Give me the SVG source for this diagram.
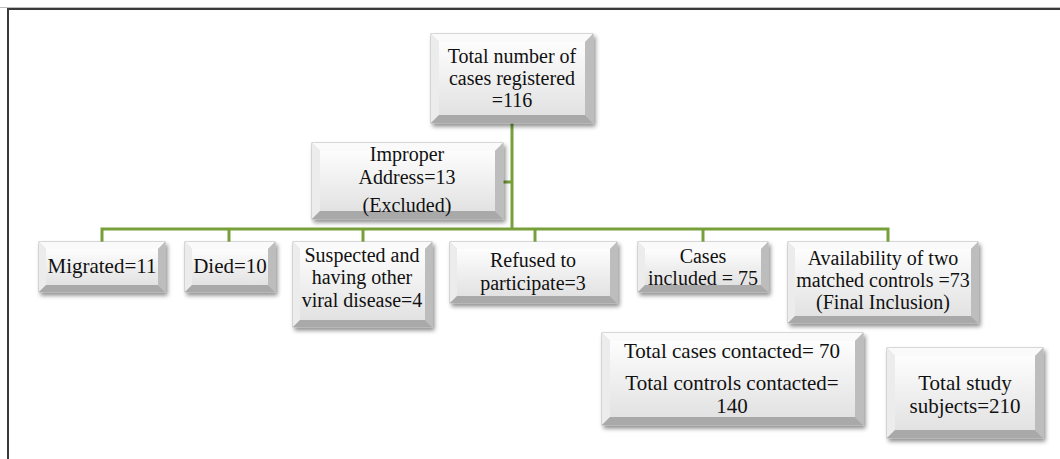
<svg xmlns="http://www.w3.org/2000/svg" width="1060" height="459" viewBox="0 0 1060 459">
<defs>
<linearGradient id="face" x1="0" y1="0" x2="0" y2="1">
<stop offset="0" stop-color="#fdfdfd"/>
<stop offset="1" stop-color="#e2e2e2"/>
</linearGradient>
<filter id="sh" x="-10%" y="-10%" width="125%" height="135%">
<feDropShadow dx="2" dy="3" stdDeviation="2" flood-color="#000" flood-opacity="0.45"/>
</filter>
</defs>
<style>
.frame{stroke:#3a3a3a;stroke-width:2;fill:none}
.frame2{stroke:#bdbdbd;stroke-width:1;fill:none}
.conn{stroke:#77a03a;stroke-width:3;fill:none}
.outer{fill:#d4d4d4;stroke:#b5b5b5;stroke-width:1;filter:url(#sh)}
.bt{fill:#fafafa}
.bl{fill:#ececec}
.br{fill:#bdbdbd}
.bb{fill:#a9a9a9}
.face{fill:url(#face)}
.lbl{font-size:20px;fill:#111;text-anchor:middle}
.big{font-size:21px}
</style>
<rect width="1060" height="459" fill="#fff"/>
<g id="frame">
<line class="frame2" x1="0" y1="7.5" x2="1060" y2="7.5"/>
<line class="frame" x1="7" y1="9" x2="1060" y2="9"/>
<line class="frame" x1="8" y1="9" x2="8" y2="459"/>
</g>
<g id="connectors">
<polyline class="conn" points="512,123 512,229"/>
<polyline class="conn" points="503,182 512,182"/>
<polyline class="conn" points="102,242 102,229 888,229 888,242"/>
<polyline class="conn" points="229,229 229,242"/>
<polyline class="conn" points="363,229 363,242"/>
<polyline class="conn" points="535,229 535,242"/>
<polyline class="conn" points="703,229 703,242"/>
</g>
<g font-family="'Liberation Serif', 'Times New Roman', serif">
<g id="n-total">
<rect class="outer" x="431" y="34" width="162" height="89"/>
<polygon class="bt" points="431,34 593,34 585,42 439,42"/>
<polygon class="bl" points="431,34 439,42 439,115 431,123"/>
<polygon class="br" points="593,34 593,123 585,115 585,42"/>
<polygon class="bb" points="431,123 593,123 585,115 439,115"/>
<rect class="face" x="439" y="42" width="146" height="73"/>
<text class="lbl" x="512" y="63">Total number of</text>
<text class="lbl" x="512" y="85">cases registered</text>
<text class="lbl" x="512" y="107">=116</text>
</g>
<g id="n-improper">
<rect class="outer" x="312" y="143" width="191" height="76"/>
<polygon class="bt" points="312,143 503,143 495,151 320,151"/>
<polygon class="bl" points="312,143 320,151 320,211 312,219"/>
<polygon class="br" points="503,143 503,219 495,211 495,151"/>
<polygon class="bb" points="312,219 503,219 495,211 320,211"/>
<rect class="face" x="320" y="151" width="175" height="60"/>
<text class="lbl" x="407" y="161">Improper</text>
<text class="lbl" x="407" y="184">Address=13</text>
<text class="lbl" x="407" y="212">(Excluded)</text>
</g>
<g id="n-migrated">
<rect class="outer" x="39" y="242" width="126" height="50"/>
<polygon class="bt" points="39,242 165,242 158,249 46,249"/>
<polygon class="bl" points="39,242 46,249 46,285 39,292"/>
<polygon class="br" points="165,242 165,292 158,285 158,249"/>
<polygon class="bb" points="39,292 165,292 158,285 46,285"/>
<rect class="face" x="46" y="249" width="112" height="36"/>
<text class="lbl big" x="102" y="273">Migrated=11</text>
</g>
<g id="n-died">
<rect class="outer" x="185" y="242" width="90" height="50"/>
<polygon class="bt" points="185,242 275,242 268,249 192,249"/>
<polygon class="bl" points="185,242 192,249 192,285 185,292"/>
<polygon class="br" points="275,242 275,292 268,285 268,249"/>
<polygon class="bb" points="185,292 275,292 268,285 192,285"/>
<rect class="face" x="192" y="249" width="76" height="36"/>
<text class="lbl big" x="230" y="273">Died=10</text>
</g>
<g id="n-suspected">
<rect class="outer" x="293" y="242" width="139" height="85"/>
<polygon class="bt" points="293,242 432,242 425,249 300,249"/>
<polygon class="bl" points="293,242 300,249 300,320 293,327"/>
<polygon class="br" points="432,242 432,327 425,320 425,249"/>
<polygon class="bb" points="293,327 432,327 425,320 300,320"/>
<rect class="face" x="300" y="249" width="125" height="71"/>
<text class="lbl" x="362" y="262">Suspected and</text>
<text class="lbl" x="362" y="284">having other</text>
<text class="lbl" x="362" y="307">viral disease=4</text>
</g>
<g id="n-refused">
<rect class="outer" x="450" y="242" width="167" height="61"/>
<polygon class="bt" points="450,242 617,242 610,249 457,249"/>
<polygon class="bl" points="450,242 457,249 457,296 450,303"/>
<polygon class="br" points="617,242 617,303 610,296 610,249"/>
<polygon class="bb" points="450,303 617,303 610,296 457,296"/>
<rect class="face" x="457" y="249" width="153" height="47"/>
<text class="lbl" x="533" y="267">Refused to</text>
<text class="lbl" x="533" y="290">participate=3</text>
</g>
<g id="n-cases">
<rect class="outer" x="638" y="242" width="130" height="50"/>
<polygon class="bt" points="638,242 768,242 761,249 645,249"/>
<polygon class="bl" points="638,242 645,249 645,285 638,292"/>
<polygon class="br" points="768,242 768,292 761,285 761,249"/>
<polygon class="bb" points="638,292 768,292 761,285 645,285"/>
<rect class="face" x="645" y="249" width="116" height="36"/>
<text class="lbl" x="703" y="263">Cases</text>
<text class="lbl" x="703" y="285">included = 75</text>
</g>
<g id="n-availability">
<rect class="outer" x="788" y="242" width="190" height="81"/>
<polygon class="bt" points="788,242 978,242 971,249 795,249"/>
<polygon class="bl" points="788,242 795,249 795,316 788,323"/>
<polygon class="br" points="978,242 978,323 971,316 971,249"/>
<polygon class="bb" points="788,323 978,323 971,316 795,316"/>
<rect class="face" x="795" y="249" width="176" height="67"/>
<text class="lbl" x="883" y="265">Availability of two</text>
<text class="lbl" x="883" y="287">matched controls =73</text>
<text class="lbl" x="883" y="309">(Final Inclusion)</text>
</g>
<g id="n-contacted">
<rect class="outer" x="602" y="333" width="261" height="92"/>
<polygon class="bt" points="602,333 863,333 855,341 610,341"/>
<polygon class="bl" points="602,333 610,341 610,417 602,425"/>
<polygon class="br" points="863,333 863,425 855,417 855,341"/>
<polygon class="bb" points="602,425 863,425 855,417 610,417"/>
<rect class="face" x="610" y="341" width="245" height="76"/>
<text class="lbl big" x="732" y="358">Total cases  contacted= 70</text>
<text class="lbl big" x="732" y="390">Total controls contacted=</text>
<text class="lbl big" x="732" y="413">140</text>
</g>
<g id="n-study">
<rect class="outer" x="887" y="348" width="156" height="90"/>
<polygon class="bt" points="887,348 1043,348 1035,356 895,356"/>
<polygon class="bl" points="887,348 895,356 895,430 887,438"/>
<polygon class="br" points="1043,348 1043,438 1035,430 1035,356"/>
<polygon class="bb" points="887,438 1043,438 1035,430 895,430"/>
<rect class="face" x="895" y="356" width="140" height="74"/>
<text class="lbl big" x="965" y="390">Total study</text>
<text class="lbl big" x="965" y="413">subjects=210</text>
</g>
</g>
</svg>
